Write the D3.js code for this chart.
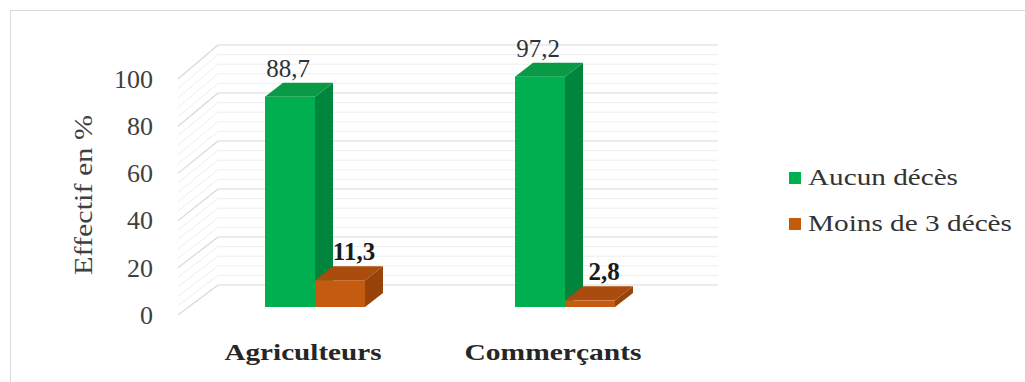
<!DOCTYPE html>
<html>
<head>
<meta charset="utf-8">
<script src="https://cdn.jsdelivr.net/npm/d3@7"></script>
<style>
  html, body { margin: 0; padding: 0; background: #fff; }
  svg { display: block; }
  text { font-family: "Liberation Serif", "Times New Roman", serif; }
</style>
</head>
<body>
<svg id="chart" width="1025" height="382"></svg>
<script>
// Data
const categories = ["Agriculteurs", "Commerçants"];
const seriesNames = ["Aucun décès", "Moins de 3 décès"];
const aucunDeces = [88.7, 97.2];
const moinsDe3 = [11.3, 2.8];
const yTicks = [0, 20, 40, 60, 80, 100];
const valueLabels = [["88,7", "97,2"], ["11,3", "2,8"]];

const seriesValues = [aucunDeces, moinsDe3];
const seriesStyle = [
  { front: "#00b050", side: "#00863c", top: "#0a9a46", weight: "normal", shift: -2 },
  { front: "#c55a11", side: "#974309", top: "#a94c0d", weight: "bold", shift: 14 }
];

const svg = d3.select("#chart");

// Chart frame
svg.append("rect")
  .attr("x", 10.5).attr("y", 10.5)
  .attr("width", 1030).attr("height", 390)
  .attr("fill", "none").attr("stroke", "#d9d9d9");

// Perspective: front plane and back wall
const yFront = d3.scaleLinear().domain([0, 100]).range([315, 79]);
const yBack = d3.scaleLinear().domain([0, 100]).range([285, 45]);
const wallFrontX = 178, wallBackX = 218, wallRightX = 718;

// Gridlines on back wall and side wall (minor then major)
const minor = d3.range(0, 101, 4).filter(v => v % 20 !== 0);
const grid = svg.append("g");
grid.selectAll("line.minorBack").data(minor).join("line")
  .attr("x1", wallBackX).attr("x2", wallRightX)
  .attr("y1", d => yBack(d)).attr("y2", d => yBack(d))
  .attr("stroke", "#eeeeee").attr("stroke-width", 1);
grid.selectAll("line.minorSide").data(minor).join("line")
  .attr("x1", wallFrontX).attr("x2", wallBackX)
  .attr("y1", d => yFront(d)).attr("y2", d => yBack(d))
  .attr("stroke", "#eeeeee").attr("stroke-width", 1);
grid.selectAll("line.majorBack").data(yTicks).join("line")
  .attr("x1", wallBackX).attr("x2", wallRightX)
  .attr("y1", d => yBack(d)).attr("y2", d => yBack(d))
  .attr("stroke", "#d9d9d9").attr("stroke-width", 1.2);
grid.selectAll("line.majorSide").data(yTicks).join("line")
  .attr("x1", wallFrontX).attr("x2", wallBackX)
  .attr("y1", d => yFront(d)).attr("y2", d => yBack(d))
  .attr("stroke", "#d9d9d9").attr("stroke-width", 1.2);

// Y axis tick labels
const yAxis = d3.axisLeft(yFront).tickValues(yTicks).tickSize(0).tickPadding(0)
  .tickFormat(d3.format("d"));
const yAxisG = svg.append("g").attr("transform", "translate(153,0)").call(yAxis);
yAxisG.select(".domain").remove();
yAxisG.attr("font-family", null).attr("font-size", null);
yAxisG.selectAll("text")
  .attr("font-size", 26).attr("fill", "#404040");

// Y axis title
svg.append("text")
  .attr("transform", "translate(92,195) rotate(-90)")
  .attr("text-anchor", "middle")
  .attr("font-size", 25).attr("fill", "#404040")
  .attr("textLength", 160).attr("lengthAdjust", "spacingAndGlyphs")
  .text("Effectif en %");

// Bars (3D boxes)
const x0 = d3.scaleBand().domain(categories).range([190, 690]);
const x1 = d3.scaleBand().domain(seriesNames).range([-50, 50]);
const yBar = d3.scaleLinear().domain([0, 100]).range([307, 70]);
const depthX = 18, depthY = -14;

const bars = [];
seriesNames.forEach((s, si) => {
  categories.forEach((c, ci) => {
    bars.push({ s, si, c, ci, v: seriesValues[si][ci], label: valueLabels[si][ci] });
  });
});
bars.sort((a, b) => a.ci - b.ci || a.si - b.si);

const barG = svg.append("g");
bars.forEach(b => {
  const st = seriesStyle[b.si];
  const xl = x0(b.c) + x0.bandwidth() / 2 + x1(b.s);
  const xr = xl + x1.bandwidth();
  const yt = yBar(b.v), yb = yBar(0);
  // side face
  barG.append("polygon")
    .attr("points", [[xr, yb], [xr + depthX, yb + depthY], [xr + depthX, yt + depthY], [xr, yt]].join(" "))
    .attr("fill", st.side);
  // top face
  barG.append("polygon")
    .attr("points", [[xl, yt], [xl + depthX, yt + depthY], [xr + depthX, yt + depthY], [xr, yt]].join(" "))
    .attr("fill", st.top);
  // front face
  barG.append("rect")
    .attr("x", xl).attr("y", yt)
    .attr("width", xr - xl).attr("height", yb - yt)
    .attr("fill", st.front);
  // value label
  barG.append("text")
    .attr("x", (xl + xr) / 2 + st.shift)
    .attr("y", yt + depthY - 6)
    .attr("text-anchor", "middle")
    .attr("font-size", 25).attr("font-weight", st.weight)
    .attr("fill", st.weight === "bold" ? "#1a1a1a" : "#333333")
    .text(b.label);
});

// Category labels
const catWidths = [157, 177];
svg.append("g").selectAll("text").data(categories).join("text")
  .attr("x", d => x0(d) + x0.bandwidth() / 2 - 12)
  .attr("y", 360)
  .attr("text-anchor", "middle")
  .attr("font-size", 23).attr("font-weight", "bold").attr("fill", "#262626")
  .attr("textLength", (d, i) => catWidths[i]).attr("lengthAdjust", "spacingAndGlyphs")
  .text(d => d);

// Legend
const legendWidths = [150, 204];
const legend = svg.append("g").selectAll("g").data(seriesNames).join("g")
  .attr("transform", (d, i) => `translate(789,${172 + i * 46})`);
legend.append("rect")
  .attr("width", 12).attr("height", 12)
  .attr("fill", (d, i) => seriesStyle[i].front);
legend.append("text")
  .attr("x", 19).attr("y", 13)
  .attr("font-size", 23).attr("fill", "#333333")
  .attr("textLength", (d, i) => legendWidths[i]).attr("lengthAdjust", "spacingAndGlyphs")
  .text(d => d);
</script>
</body>
</html>
